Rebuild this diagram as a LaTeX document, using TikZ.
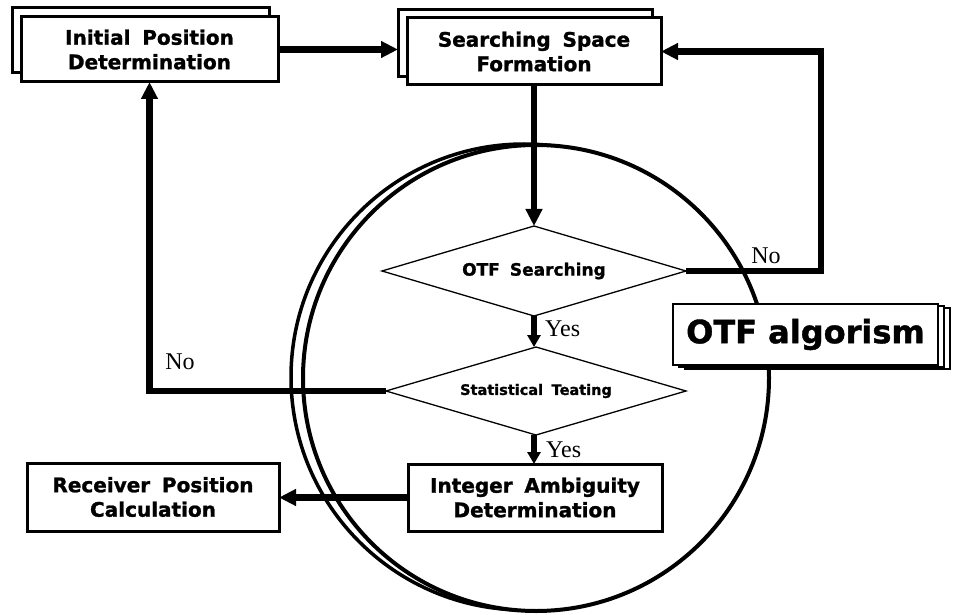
\documentclass[tikz,border=0pt]{standalone}
\usepackage{fontspec}
\setmainfont{Liberation Serif}
\newfontfamily\boxfont{DejaVu Sans}[WordSpace=1.7,FakeBold=1.3]
\newfontfamily\bigfont{DejaVu Sans}[FakeBold=1.2]
\usetikzlibrary{arrows.meta,shapes.geometric}
\begin{document}
\begin{tikzpicture}[x=1pt,y=-1pt,
  box/.style={draw, line width=3pt, fill=white, inner sep=0pt, outer sep=0pt,
    minimum width=254pt, minimum height=67pt, align=center,
    font=\boxfont\bfseries\fontsize{20}{24.5}\selectfont},
  backbox/.style={draw, line width=3pt, fill=white, inner sep=0pt, outer sep=0pt,
    minimum width=254pt, minimum height=67pt},
  dia/.style={diamond, draw, line width=1.3pt, aspect=3.4, inner sep=0pt, outer sep=0pt,
    minimum width=304pt, minimum height=90pt,
    font=\boxfont\bfseries\fontsize{17}{20}\selectfont},
  alg/.style={draw, line width=1.4pt, fill=white, inner sep=0pt, outer sep=0pt,
    minimum width=265pt, minimum height=61pt,
    font=\bigfont\bfseries\fontsize{32}{36}\selectfont},
  conn/.style={line width=6.5pt, -{Triangle[length=17pt,width=16pt]}},
  yesconn/.style={line width=6.5pt, -{Triangle[length=12pt,width=13pt]}},
  lbl/.style={font=\fontsize{24}{26}\selectfont, inner sep=0pt},
]
\useasboundingbox (0,0) rectangle (954,615);

% circles
\draw[line width=3.5pt] (524,377) circle[radius=233pt];
\draw[line width=4pt, fill=white] (536,378) circle[radius=233pt];

% boxes
\node[backbox, minimum width=257pt, minimum height=65pt] (iniB) at (140.5,40.5) {};
\node[box, minimum width=257pt, minimum height=65pt] (ini) at (149.5,49.5) {Initial Position\\Determination};
\node[backbox] (ssfB) at (525,43) {};
\node[box] (ssf) at (534,51.5) {Searching Space\\Formation};

\node[dia] (otf) at (534,271) {OTF Searching};
\node[dia, minimum width=300pt, minimum height=88pt, font=\boxfont\bfseries\fontsize{14.5}{17}\selectfont] (stat) at (536,391) {Statistical Teating};

\node[box] (int) at (535,497.5) {Integer Ambiguity\\Determination};
\node[box, minimum width=252pt, minimum height=68pt] (rpc) at (153,497) {Receiver Position\\Calculation};

\node[alg] (algB2) at (817.5,338.5) {};
\node[alg] (algB1) at (811.5,336.5) {};
\node[alg] (alg) at (805.5,334.5) {OTF algorism};

% connectors
\draw[conn] (ini.east) -- (ini.east -| ssfB.west);
\draw[conn] (ssf.south) -- (otf.north);
\coordinate (rc) at ([xshift=160pt]ssf.east);
\draw[conn] (otf.east) -| (rc) -- (ssf.east);
\draw[yesconn] (otf.south) -- (otf.south |- stat.north);
\draw[yesconn] (otf.south |- stat.south) -- (otf.south |- int.north);
\draw[conn] (stat.west) -| (ini.south);
\draw[conn] (int.west) -- (int.west -| rpc.east);

% labels
\node[lbl] (no1) at (766,256) {No};
\node[lbl] (no2) at (180,362) {No};
\node[lbl, anchor=west] (yes1) at (545,329) {Yes};
\node[lbl, anchor=west] (yes2) at (546,450) {Yes};
\end{tikzpicture}
\end{document}
